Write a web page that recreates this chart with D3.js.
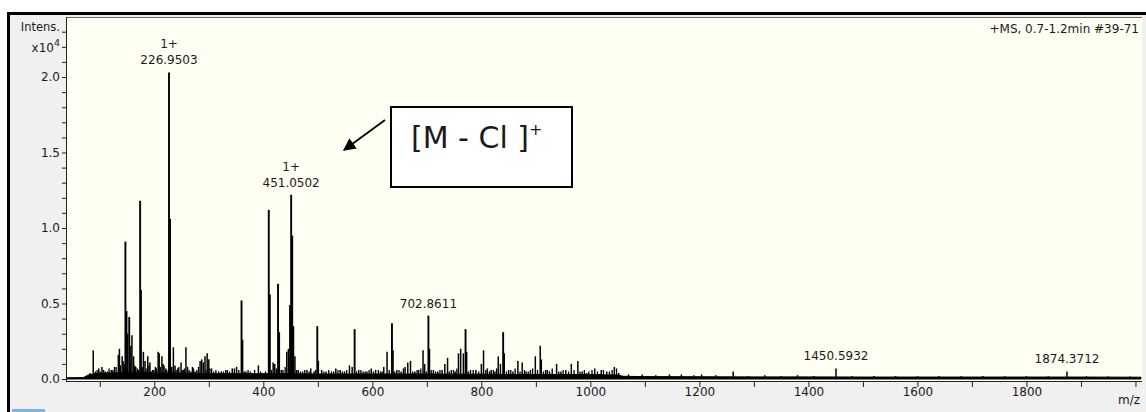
<!DOCTYPE html>
<html>
<head>
<meta charset="utf-8">
<script src="https://cdn.jsdelivr.net/npm/d3@7/dist/d3.min.js"></script>
<style>
  body { margin: 0; background: #ffffff; }
  svg { display: block; }
  text { font-family: "DejaVu Sans", Verdana, sans-serif; fill: #1a1a1a; }
</style>
</head>
<body>
<svg id="chart" width="1146" height="412"></svg>
<script>
// Mass spectrum, +MS 0.7-1.2 min (#39-71). Intensities in units of 10^4 counts.

// Resolved peaks: m/z and intensity (x10^4)
const peakMz = [
  88, 98, 104, 110, 121, 127, 134, 136, 141, 145, 147, 149, 151, 154, 157, 159, 162, 166,
  174, 175.5, 180, 183, 188, 192, 197, 202, 207, 209, 214, 216, 221, 226.9503, 228.95, 232,
  235, 238, 243, 249, 253, 258, 261, 270, 275, 284, 287, 290, 293, 297, 300, 305, 318, 323,
  334, 343, 347, 351, 360, 362, 368, 380, 391, 400, 410, 412, 418, 421, 427, 429, 433, 443,
  446, 449, 451.0502, 453, 455, 458, 464, 472, 480, 487, 493, 499, 501, 507, 515, 525, 533,
  541, 549, 558, 563, 567.5, 575, 583, 590, 598, 606, 615, 621, 627, 636, 638, 645, 653,
  660, 665, 670, 678, 685, 693, 696, 702.8611, 704.86, 712, 720, 728, 733, 738, 745, 752,
  758, 762, 767, 771, 773, 780, 790, 800, 804, 811, 818, 825, 831, 835, 840, 842, 850, 858,
  867, 875, 882, 890, 899, 908, 910, 918, 925, 938, 946, 955, 965, 977, 985, 993, 1008,
  1020, 1030, 1044, 1052, 1070, 1095, 1120, 1145, 1167, 1190, 1204, 1230, 1262, 1290, 1320,
  1350, 1380, 1410, 1450.5932, 1480, 1520, 1560, 1600, 1640, 1680, 1720, 1760, 1800, 1840,
  1874.3712, 1910, 1950, 1990
];
const peakIntensity = [
  0.19, 0.07, 0.08, 0.05, 0.06, 0.08, 0.16, 0.20, 0.15, 0.10, 0.91, 0.45, 0.30, 0.41, 0.22, 0.29, 0.15, 0.08,
  1.18, 0.59, 0.18, 0.12, 0.15, 0.11, 0.06, 0.08, 0.18, 0.17, 0.15, 0.10, 0.07, 2.03, 1.06, 0.08,
  0.21, 0.09, 0.07, 0.11, 0.06, 0.21, 0.08, 0.08, 0.05, 0.12, 0.13, 0.11, 0.15, 0.17, 0.13, 0.07, 0.05, 0.05,
  0.06, 0.07, 0.07, 0.08, 0.52, 0.26, 0.05, 0.04, 0.09, 0.04, 1.12, 0.56, 0.11, 0.10, 0.63, 0.31, 0.06, 0.18,
  0.20, 0.49, 1.22, 0.95, 0.35, 0.15, 0.06, 0.05, 0.06, 0.07, 0.05, 0.35, 0.12, 0.06, 0.05, 0.05, 0.07,
  0.06, 0.05, 0.09, 0.08, 0.33, 0.06, 0.05, 0.05, 0.07, 0.06, 0.05, 0.08, 0.18, 0.37, 0.19, 0.06, 0.05,
  0.08, 0.11, 0.12, 0.05, 0.06, 0.19, 0.10, 0.42, 0.20, 0.06, 0.05, 0.06, 0.10, 0.14, 0.06, 0.05,
  0.17, 0.20, 0.17, 0.33, 0.18, 0.06, 0.06, 0.10, 0.19, 0.07, 0.06, 0.05, 0.15, 0.10, 0.31, 0.17, 0.06, 0.05,
  0.12, 0.11, 0.05, 0.06, 0.15, 0.22, 0.13, 0.06, 0.05, 0.10, 0.05, 0.06, 0.10, 0.12, 0.05, 0.04, 0.07,
  0.06, 0.05, 0.08, 0.04, 0.03, 0.03, 0.025, 0.03, 0.03, 0.025, 0.03, 0.025, 0.05, 0.02, 0.025,
  0.02, 0.025, 0.02, 0.07, 0.02, 0.02, 0.02, 0.018, 0.02, 0.018, 0.02, 0.018, 0.02, 0.018,
  0.05, 0.018, 0.016, 0.016
];

// Low-level noise spikes riding on the baseline (x10^4)
const noiseMz = [
  82, 92, 95, 101, 107, 114, 117, 124, 130, 138, 143, 156, 164, 169, 171, 178, 185, 190, 195,
  199, 204, 211, 218, 223, 230, 240, 245, 251, 255, 264, 267, 272, 278, 281, 295, 302, 309,
  313, 327, 331, 338, 355, 365, 372, 376, 384, 395, 404, 415, 424, 436, 440, 461, 468, 476,
  484, 496, 511, 520, 529, 537, 545, 553, 571, 579, 587, 594, 602, 611, 618, 631, 641, 649,
  657, 674, 682, 689, 699, 708, 716, 724, 741, 749, 755, 776, 785, 795, 808, 815, 822, 828,
  846, 854, 862, 871, 879, 886, 894, 903, 914, 921, 930, 942, 950, 960, 970, 981, 989, 997,
  1003, 1013, 1024, 1035, 1040, 1048
];
const noiseIntensity = [
  0.04, 0.05, 0.06, 0.05, 0.06, 0.05, 0.07, 0.06, 0.08, 0.09, 0.12, 0.10, 0.09, 0.07, 0.06,
  0.08, 0.07, 0.09, 0.05, 0.06, 0.07, 0.08, 0.09, 0.06, 0.07, 0.06, 0.08, 0.06, 0.07, 0.06,
  0.05, 0.07, 0.06, 0.08, 0.06, 0.07, 0.05, 0.06, 0.05, 0.06, 0.05, 0.06, 0.05, 0.06, 0.05,
  0.06, 0.05, 0.05, 0.06, 0.07, 0.06, 0.08, 0.06, 0.05, 0.06, 0.05, 0.06, 0.05, 0.06, 0.05,
  0.06, 0.05, 0.06, 0.05, 0.06, 0.05, 0.06, 0.05, 0.06, 0.05, 0.06, 0.05, 0.06, 0.07, 0.05,
  0.06, 0.07, 0.05, 0.06, 0.05, 0.06, 0.05, 0.06, 0.07, 0.05, 0.06, 0.05, 0.06, 0.05, 0.06,
  0.07, 0.05, 0.06, 0.07, 0.05, 0.06, 0.05, 0.07, 0.06, 0.05, 0.06, 0.07, 0.05, 0.06, 0.05,
  0.06, 0.05, 0.06, 0.05, 0.06, 0.05, 0.06, 0.05, 0.06, 0.07, 0.05, 0.05
];

// Chemical noise floor under the spectrum (x10^4)
const floorMz = [40, 70, 78, 90, 120, 160, 200, 250, 300, 350, 400, 450, 500, 550, 600, 650, 700,
  750, 800, 850, 900, 950, 1000, 1050, 1060, 1100, 1200, 1300, 1400, 1500, 1600, 1700, 1800, 1900, 2010];
const floorIntensity = [0.008, 0.01, 0.025, 0.035, 0.04, 0.045, 0.04, 0.04, 0.035, 0.035, 0.035, 0.035,
  0.033, 0.033, 0.033, 0.033, 0.033, 0.032, 0.032, 0.03, 0.03, 0.03, 0.03, 0.026, 0.018, 0.016, 0.015,
  0.014, 0.014, 0.013, 0.013, 0.013, 0.013, 0.013, 0.012];

// Labelled peaks
const labelMz = [226.9503, 451.0502, 702.8611, 1450.5932, 1874.3712];
const labelIntensity = [2.03, 1.22, 0.42, 0.07, 0.05];
const labelCharge = ["1+", "1+", "", "", ""];

// Axis ticks
const xMajorTicks = [200, 400, 600, 800, 1000, 1200, 1400, 1600, 1800];
const yMajorTicks = [0.0, 0.5, 1.0, 1.5, 2.0];

const svg = d3.select("#chart");
const W = 1146, H = 412;
const plot = { left: 66, top: 17, right: 1142, bottom: 381 };

const x = d3.scaleLinear().domain([38, 2012]).range([plot.left, plot.right]);
const y = d3.scaleLinear().domain([0, 2.4]).range([379, 16.6]);

// window frame
svg.append("rect").attr("x", 0).attr("y", 0).attr("width", W).attr("height", H).attr("fill", "#ffffff");
svg.append("rect").attr("x", 7).attr("y", 12).attr("width", W - 7).attr("height", H - 12).attr("fill", "#000");
svg.append("rect").attr("x", 10).attr("y", 15).attr("width", W - 10).attr("height", H - 15).attr("fill", "#f0f0f0");
svg.append("rect").attr("x", 12).attr("y", 409).attr("width", 33).attr("height", 3).attr("fill", "#7fb2e5");

// plot area
svg.append("rect")
  .attr("x", plot.left).attr("y", plot.top)
  .attr("width", plot.right - plot.left).attr("height", plot.bottom - plot.top)
  .attr("fill", "#fffff4");

svg.append("clipPath").attr("id", "plotclip").append("rect")
  .attr("x", plot.left).attr("y", plot.top)
  .attr("width", plot.right - plot.left).attr("height", plot.bottom - plot.top);

const g = svg.append("g").attr("clip-path", "url(#plotclip)");

// noise floor
const floorData = floorMz.map((m, i) => [m, floorIntensity[i]]);
g.append("path")
  .datum(floorData)
  .attr("fill", "#000")
  .attr("stroke", "#000")
  .attr("stroke-width", 1)
  .attr("d", d3.area().x(d => x(d[0])).y0(y(0)).y1(d => y(d[1])));

// baseline noise spikes
g.selectAll("line.noise")
  .data(noiseMz.map((m, i) => ({ mz: m, v: noiseIntensity[i] })))
  .join("line")
  .attr("class", "noise")
  .attr("x1", d => x(d.mz)).attr("x2", d => x(d.mz))
  .attr("y1", y(0)).attr("y2", d => y(d.v))
  .attr("stroke", "#000")
  .attr("stroke-width", 1.3);

// peak sticks
const peaks = peakMz.map((m, i) => ({ mz: m, v: peakIntensity[i] }));
g.selectAll("line.peak")
  .data(peaks)
  .join("line")
  .attr("class", "peak")
  .attr("x1", d => x(d.mz)).attr("x2", d => x(d.mz))
  .attr("y1", y(0)).attr("y2", d => y(d.v))
  .attr("stroke", "#000")
  .attr("stroke-width", d => d.v > 0.3 ? 1.9 : 1.5);

// plot borders
svg.append("line").attr("x1", plot.left).attr("x2", plot.right).attr("y1", plot.top + 0.5).attr("y2", plot.top + 0.5)
  .attr("stroke", "#6d6d6d");
svg.append("line").attr("x1", plot.left + 0.5).attr("x2", plot.left + 0.5).attr("y1", plot.top).attr("y2", plot.bottom + 1)
  .attr("stroke", "#222");
svg.append("line").attr("x1", plot.left).attr("x2", plot.right).attr("y1", plot.bottom + 0.5).attr("y2", plot.bottom + 0.5)
  .attr("stroke", "#222");

// x axis
const xAxis = d3.axisBottom(x)
  .tickValues(d3.range(100, 2001, 100))
  .tickSize(5)
  .tickFormat(d => xMajorTicks.includes(d) ? d : "");
const gx = svg.append("g").attr("transform", `translate(0,${plot.bottom + 1})`).call(xAxis);
gx.select(".domain").remove();
gx.selectAll(".tick line").attr("stroke", "#222");
gx.selectAll(".tick text").attr("font-size", 12).attr("dy", "0.2em").attr("y", 12)
  .attr("font-family", "DejaVu Sans, sans-serif").attr("fill", "#1a1a1a");
svg.append("text").attr("x", plot.right - 2).attr("y", 404).attr("text-anchor", "end")
  .attr("font-size", 12).text("m/z");

// y axis
const yTicks = d3.range(0, 24).map(i => i / 10);
const yAxis = d3.axisLeft(y)
  .tickValues(yTicks)
  .tickSize(4)
  .tickFormat(d => yMajorTicks.some(t => Math.abs(t - d) < 1e-6) ? d3.format(".1f")(d) : "");
const gy = svg.append("g").attr("transform", `translate(${plot.left},0)`).call(yAxis);
gy.select(".domain").remove();
gy.selectAll(".tick line").attr("stroke", "#222");
gy.selectAll(".tick text").attr("font-size", 12).attr("x", -6)
  .attr("font-family", "DejaVu Sans, sans-serif").attr("fill", "#1a1a1a");

svg.append("text").attr("x", 60).attr("y", 27).attr("text-anchor", "end")
  .attr("dominant-baseline", "middle").attr("font-size", 11.5).text("Intens.");
const exp = svg.append("text").attr("x", 60).attr("y", 48).attr("text-anchor", "end")
  .attr("dominant-baseline", "middle").attr("font-size", 12);
exp.append("tspan").text("x10");
exp.append("tspan").attr("dy", -5).attr("font-size", 9.5).text("4");

// acquisition header
svg.append("text").attr("x", 1139).attr("y", 29).attr("text-anchor", "end")
  .attr("dominant-baseline", "middle").attr("font-size", 12).text("+MS, 0.7-1.2min #39-71");

// peak labels
labelMz.forEach((m, i) => {
  const px = x(m), py = y(labelIntensity[i]);
  svg.append("text").attr("x", px).attr("y", py - 8).attr("text-anchor", "middle")
    .attr("font-size", 12).text(d3.format(".4f")(m));
  if (labelCharge[i]) {
    svg.append("text").attr("x", px).attr("y", py - 24).attr("text-anchor", "middle")
      .attr("font-size", 12).text(labelCharge[i]);
  }
});

// annotation: [M - Cl]+ callout
const defs = svg.append("defs");
defs.append("marker").attr("id", "arrowhead")
  .attr("viewBox", "0 0 10 10").attr("refX", 9).attr("refY", 5)
  .attr("markerWidth", 7).attr("markerHeight", 7).attr("markerUnits", "strokeWidth")
  .attr("orient", "auto")
  .append("path").attr("d", "M0,0 L10,5 L0,10 Z").attr("fill", "#000");
svg.append("line").attr("x1", 385).attr("y1", 120).attr("x2", 344).attr("y2", 150)
  .attr("stroke", "#000").attr("stroke-width", 1.8).attr("marker-end", "url(#arrowhead)");
svg.append("rect").attr("x", 391).attr("y", 107).attr("width", 181).attr("height", 80)
  .attr("fill", "#ffffff").attr("stroke", "#000").attr("stroke-width", 2);
const ann = svg.append("text").attr("x", 411).attr("y", 148)
  .attr("font-family", "Liberation Sans, Arial, sans-serif").attr("font-size", 30).attr("fill", "#000");
ann.append("tspan").text("[M - Cl ]");
ann.append("tspan").attr("dy", -13).attr("font-size", 16).text("+");
</script>
</body>
</html>
